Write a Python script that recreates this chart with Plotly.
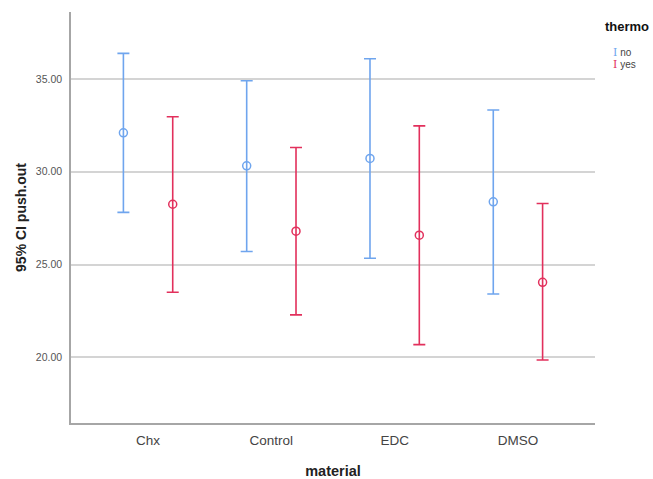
import plotly.graph_objects as go

materials = ["Chx", "Control", "EDC", "DMSO"]
groups = ["no", "yes"]
no_mean = [32.10, 30.32, 30.72, 28.38]
no_upper = [36.39, 34.91, 36.10, 33.33]
no_lower = [27.81, 25.70, 25.34, 23.41]
yes_mean = [28.25, 26.80, 26.58, 24.04]
yes_upper = [32.97, 31.31, 32.48, 28.29]
yes_lower = [23.50, 22.28, 20.68, 19.85]
y_ticks = [20, 25, 30, 35]

BLUE = "#6FA5EE"
RED = "#E2305C"

series = [
    ("no", no_mean, no_upper, no_lower, BLUE, -0.2),
    ("yes", yes_mean, yes_upper, yes_lower, RED, 0.2),
]

fig = go.Figure()
for name, mean, up, lo, color, off in series:
    xs = [i + off for i in range(len(materials))]
    fig.add_trace(go.Scatter(
        x=xs, y=mean, mode="markers", name=name, showlegend=False,
        marker=dict(symbol="circle-open", size=8, color=color, line=dict(width=1.5, color=color)),
        error_y=dict(type="data", symmetric=False,
                     array=[u - m for u, m in zip(up, mean)],
                     arrayminus=[m - l for m, l in zip(mean, lo)],
                     color=color, thickness=1.6, width=6),
    ))

fig.update_layout(
    width=653, height=479,
    margin=dict(l=71, r=58, t=12, b=56),
    paper_bgcolor="white", plot_bgcolor="white",
    font=dict(family="Liberation Sans, Arial, sans-serif", color="#333"),
    xaxis=dict(
        range=[-0.625, 3.625], tickvals=list(range(len(materials))), ticktext=materials,
        showgrid=False, zeroline=False, showline=True, linecolor="#A6A6A6", linewidth=1.5,
        ticks="", tickfont=dict(size=13.5, color="#444"), ticklabelstandoff=4,
        automargin=False,
        title=dict(text="<b>material</b>", font=dict(size=14.5, color="#222"), standoff=22),
    ),
    yaxis=dict(
        range=[16.45, 38.62], tickvals=y_ticks, ticktext=[f"{v:.2f}" for v in y_ticks],
        showgrid=True, gridcolor="#D4D4D4", gridwidth=1.5, zeroline=False,
        showline=True, linecolor="#A6A6A6", linewidth=1.5,
        ticks="", tickfont=dict(size=10.5, color="#555"), ticklabelstandoff=5,
        automargin=False,
        title=dict(text="<b>95% CI push.out</b>", font=dict(size=14, color="#222"), standoff=6),
    ),
)

# legend drawn as text
fig.add_annotation(xref="paper", yref="paper", x=(603 - 71) / 524, y=1 - (27 - 12) / 411,
                   xanchor="left", yanchor="middle", showarrow=False,
                   text="<b>thermo</b>", font=dict(size=13, color="#111"))
for k, (name, color) in enumerate([("no", BLUE), ("yes", RED)]):
    yc = 52 + k * 12
    fig.add_annotation(xref="paper", yref="paper", x=(611 - 71) / 524, y=1 - (yc - 12) / 411,
                       xanchor="left", yanchor="middle", showarrow=False,
                       text=f'<span style="color:{color};font-family:DejaVu Serif;font-size:11px">I</span> {name}',
                       font=dict(size=10, color="#444"))

fig.write_html("out.html", config={"displayModeBar": False},
               post_script="document.body.style.margin='0';")
